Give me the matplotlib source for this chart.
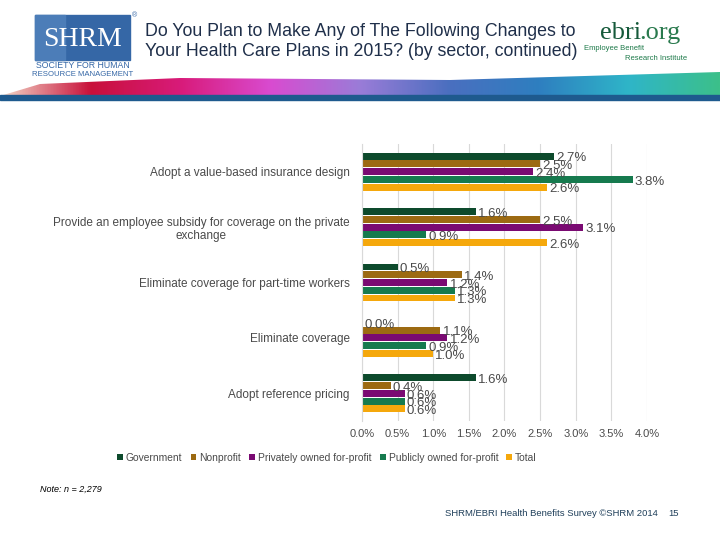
import numpy as np
import matplotlib
matplotlib.use("Agg")
import matplotlib.pyplot as plt
from matplotlib.patches import Rectangle, Polygon
from matplotlib.colors import LinearSegmentedColormap

plt.rcParams['font.family'] = ['Liberation Sans', 'DejaVu Sans']

# Data
categories = ["Adopt a value-based insurance design",
              "Provide an employee subsidy for coverage on the private\nexchange",
              "Eliminate coverage for part-time workers",
              "Eliminate coverage",
              "Adopt reference pricing"]
series = ["Government", "Nonprofit", "Privately owned for-profit",
          "Publicly owned for-profit", "Total"]
government = [2.7, 1.6, 0.5, 0.0, 1.6]
nonprofit = [2.5, 2.5, 1.4, 1.1, 0.4]
private_fp = [2.4, 3.1, 1.2, 1.2, 0.6]
public_fp = [3.8, 0.9, 1.3, 0.9, 0.6]
total = [2.6, 2.6, 1.3, 1.0, 0.6]
xticks = [0.0, 0.5, 1.0, 1.5, 2.0, 2.5, 3.0, 3.5, 4.0]

colors = ["#0D4A2C", "#9C6A12", "#7A0A72", "#167A4E", "#F5A80C"]
values = [government, nonprofit, private_fp, public_fp, total]
txt = "#4A4A4A"

fig = plt.figure(figsize=(7.2, 5.4), dpi=100)

# ---- header ----
hdr = fig.add_axes([0, 0, 1, 1])
hdr.set_xlim(0, 720)
hdr.set_ylim(540, 0)
hdr.axis("off")

# SHRM logo
hdr.add_patch(Rectangle((35, 15), 95, 45, color="#3567A6"))
hdr.add_patch(Rectangle((35, 15), 30, 45, color="#4C7DB8"))
hdr.text(82.5, 39, "SHRM", color="white", fontsize=20, family="Liberation Serif",
         ha="center", va="center")
hdr.text(132, 16, "®", color="#3567A6", fontsize=5, ha="left", va="center")
hdr.text(82.5, 66, "SOCIETY FOR HUMAN", color="#3567A6", fontsize=6.3, va="center",
         ha="center")
hdr.text(82.5, 74, "RESOURCE MANAGEMENT", color="#3567A6", fontsize=5.6, va="center",
         ha="center")

# title
hdr.text(145, 31, "Do You Plan to Make Any of The Following Changes to",
         color="#1F2F4A", fontsize=12.8, va="center")
hdr.text(145, 52, "Your Health Care Plans in 2015? (by sector, continued)",
         color="#1F2F4A", fontsize=12.8, va="center")

# ebri logo (sits over the end of the title)
hdr.add_patch(Rectangle((590, 14), 130, 34, color="white", zorder=3))
hdr.add_patch(Rectangle((582, 44), 138, 20, color="white", zorder=3))
hdr.text(600, 33, "ebri", color="#15593A", fontsize=19, family="Liberation Serif",
         va="center", zorder=4)
hdr.text(639, 33, ".org", color="#2A7A4E", fontsize=19, family="Liberation Serif",
         va="center", zorder=4)
hdr.text(584, 49, "Employee Benefit", color="#1E7A4A", fontsize=5.5, va="center", zorder=4)
hdr.text(625, 58, "Research Institute", color="#1E7A4A", fontsize=5.5, va="center", zorder=4)

# colourful swoosh
swoosh = LinearSegmentedColormap.from_list(
    "sw", ["#F3D9C8", "#C8103A", "#D81B7A", "#D94BD0", "#9A7CD8",
           "#4A6FBF", "#2E7FC0", "#2FB5C8", "#3CC08A"])
grad = np.linspace(0, 1, 256).reshape(1, -1)
im = hdr.imshow(grad, cmap=swoosh, aspect="auto", extent=(0, 720, 96, 72), zorder=1)
clip = Polygon([(0, 96), (40, 84), (180, 78), (450, 80), (720, 72),
                (720, 96)], closed=True, transform=hdr.transData)
im.set_clip_path(clip)
hdr.add_patch(Rectangle((0, 95), 720, 5, color="#1E5A8E", zorder=2))

# ---- chart ----
ax = fig.add_axes([362 / 720, 1 - 421 / 540, 285 / 720, 277 / 540])
y = np.arange(len(categories))
step = 0.14
for i, (name, vals, c) in enumerate(zip(series, values, colors)):
    pos = y + (i - 2) * step
    ax.barh(pos, vals, height=0.125, color=c, label=name, zorder=2)
    for p, v in zip(pos, vals):
        ax.text(v + 0.03, p + 0.04, f"{v:.1f}%", va="center", ha="left",
                fontsize=9.5, color=txt, zorder=3)

ax.set_ylim(len(categories) - 0.5, -0.5)
ax.set_xlim(0, 4.0)
ax.set_xticks(xticks)
ax.set_xticklabels([f"{t:.1f}%" for t in xticks], fontsize=8, color=txt)
ax.set_yticks(y)
ax.set_yticklabels(categories, fontsize=8.5, color=txt, multialignment="center")
ax.tick_params(length=0)
ax.tick_params(axis="x", pad=6)
ax.tick_params(axis="y", pad=9)
ax.grid(axis="x", color="#D9D9D9", linewidth=0.8, zorder=0)
for s in ["top", "right", "bottom"]:
    ax.spines[s].set_visible(False)
ax.spines["left"].set_color("#D9D9D9")

handles, labels = ax.get_legend_handles_labels()
fig.legend(handles, labels, loc="center left", bbox_to_anchor=(108 / 720, 1 - 458 / 540),
           ncol=5, frameon=False, fontsize=7.4, handlelength=0.55, handleheight=0.55,
           handletextpad=0.3, columnspacing=0.8, labelcolor=txt)

# notes / footer
hdr.text(40, 489, "Note: n = 2,279", fontsize=6.5, style="italic", color="black", va="center")
hdr.text(445, 514, "SHRM/EBRI Health Benefits Survey ©SHRM 2014", fontsize=6.8,
         color="#1F3F5A", va="center")
hdr.text(668, 514, "15", fontsize=6.8, color="#1F3F5A", va="center")

fig.savefig("out.png", dpi=100)
